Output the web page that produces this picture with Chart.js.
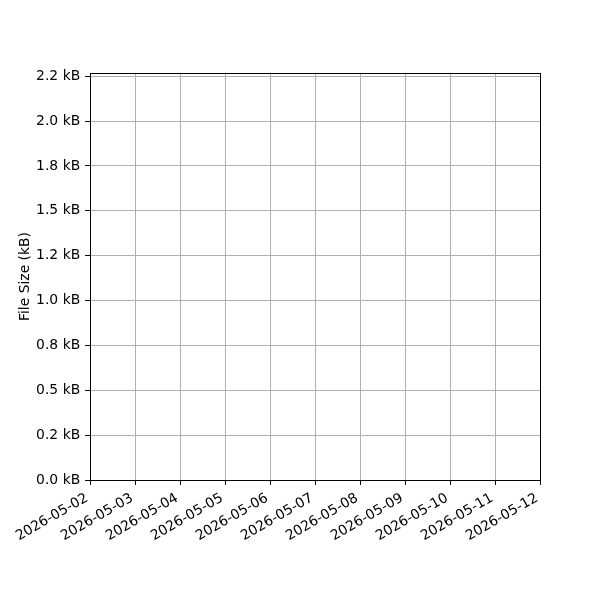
<!DOCTYPE html>
<html>
<head>
<meta charset="utf-8">
<script src="https://cdn.jsdelivr.net/npm/chart.js@4"></script>
<style>
  html, body { margin: 0; padding: 0; background: #fff; }
  #wrap { width: 600px; height: 600px; }
</style>
</head>
<body>
<div id="wrap"><canvas id="sizeChart" width="600" height="600"></canvas></div>
<script>
// Days on the x axis
const dates = ['2026-05-02', '2026-05-03', '2026-05-04', '2026-05-05', '2026-05-06',
    '2026-05-07', '2026-05-08', '2026-05-09', '2026-05-10', '2026-05-11', '2026-05-12'];

// File sizes in kB (nothing plotted in the reference)
const fileSizes = [];

// Y ticks and their labels as printed
const yTickValues = [0, 0.25, 0.5, 0.75, 1.0, 1.25, 1.5, 1.75, 2.0, 2.25];
const yTickLabels = ['0.0 kB', '0.2 kB', '0.5 kB', '0.8 kB', '1.0 kB',
    '1.2 kB', '1.5 kB', '1.8 kB', '2.0 kB', '2.2 kB'];
const yMax = 2.268;

const font = { family: 'DejaVu Sans', size: 13.9 };

// Draw the full box around the plot area like matplotlib spines
const boxPlugin = {
    id: 'box',
    afterDraw(chart) {
        const { ctx, chartArea: a } = chart;
        ctx.save();
        ctx.strokeStyle = '#000';
        ctx.lineWidth = 1;
        ctx.strokeRect(Math.round(a.left) + 0.5, Math.round(a.top) + 0.5,
            Math.round(a.right - a.left), Math.round(a.bottom - a.top));
        ctx.restore();
    }
};

const ctx = document.getElementById('sizeChart').getContext('2d');
const sizeChart = new Chart(ctx, {
    type: 'line',
    data: {
        labels: dates,
        datasets: [
            {
                label: 'File Size',
                data: fileSizes,
                borderColor: '#1f77b4',
                backgroundColor: '#1f77b4',
                borderWidth: 1.5,
                pointRadius: 0
            }
        ]
    },
    options: {
        responsive: false,
        animation: false,
        devicePixelRatio: 1,
        layout: { padding: { top: 73, right: 60, left: 0, bottom: 0 } },
        plugins: {
            legend: { display: false },
            tooltip: { enabled: false }
        },
        scales: {
            x: {
                type: 'category',
                offset: false,
                grid: { color: '#b0b0b0', lineWidth: 1, tickColor: '#000', tickLength: 4.9, tickWidth: 1 },
                border: { color: '#000', width: 1 },
                ticks: {
                    color: '#000',
                    font: font,
                    padding: 5,
                    labelOffset: -3,
                    autoSkip: false,
                    minRotation: 30,
                    maxRotation: 30
                },
                afterFit(scale) { scale.height = 120; }
            },
            y: {
                type: 'linear',
                min: 0,
                max: yMax,
                grid: { color: '#b0b0b0', lineWidth: 1, tickColor: '#000', tickLength: 4.9, tickWidth: 1 },
                border: { color: '#000', width: 1 },
                ticks: {
                    color: '#000',
                    font: font,
                    padding: 4.9,
                    callback: (value) => {
                        const i = yTickValues.indexOf(value);
                        return i >= 0 ? yTickLabels[i] : '';
                    }
                },
                afterBuildTicks(scale) {
                    scale.ticks = yTickValues.map(v => ({ value: v }));
                },
                title: {
                    display: true,
                    text: 'File Size (kB)',
                    color: '#000',
                    font: font,
                    padding: { top: 17, bottom: 0 }
                },
                afterFit(scale) { scale.width = 90; }
            }
        }
    },
    plugins: [boxPlugin]
});
</script>
</body>
</html>
